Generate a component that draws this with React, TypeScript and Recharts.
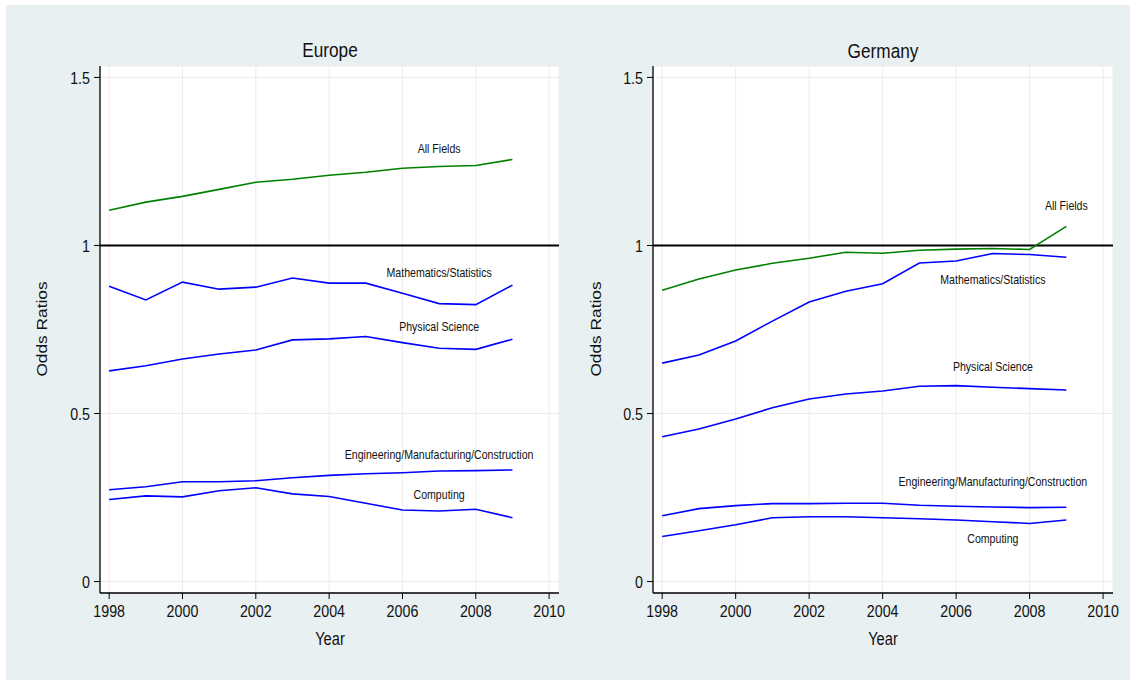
import React from "react";
import {
  LineChart,
  Line,
  XAxis,
  YAxis,
  CartesianGrid,
  ReferenceLine,
  ReferenceDot,
} from "recharts";

// ---------- data ----------
const years = [1998, 1999, 2000, 2001, 2002, 2003, 2004, 2005, 2006, 2007, 2008, 2009];
const xTicks = [1998, 2000, 2002, 2004, 2006, 2008, 2010];
const yTicks = [0, 0.5, 1, 1.5];

// Europe
const euAllFields = [1.105, 1.129, 1.146, 1.167, 1.188, 1.197, 1.209, 1.218, 1.23, 1.235, 1.238, 1.256];
const euMath = [0.879, 0.838, 0.891, 0.87, 0.876, 0.903, 0.888, 0.888, 0.858, 0.827, 0.824, 0.882];
const euPhys = [0.627, 0.642, 0.662, 0.677, 0.689, 0.719, 0.722, 0.729, 0.711, 0.694, 0.691, 0.721];
const euEng = [0.273, 0.282, 0.297, 0.297, 0.3, 0.309, 0.316, 0.321, 0.324, 0.329, 0.33, 0.332];
const euComp = [0.244, 0.255, 0.252, 0.27, 0.279, 0.261, 0.253, 0.233, 0.213, 0.21, 0.215, 0.19];

// Germany
const deAllFields = [0.867, 0.9, 0.927, 0.947, 0.962, 0.98, 0.977, 0.986, 0.989, 0.991, 0.988, 1.057];
const deMath = [0.65, 0.674, 0.716, 0.775, 0.832, 0.864, 0.886, 0.948, 0.954, 0.976, 0.973, 0.965];
const dePhys = [0.431, 0.454, 0.484, 0.517, 0.543, 0.558, 0.567, 0.581, 0.583, 0.578, 0.574, 0.57];
const deEng = [0.196, 0.217, 0.226, 0.232, 0.232, 0.233, 0.233, 0.227, 0.224, 0.222, 0.22, 0.221];
const deComp = [0.134, 0.151, 0.169, 0.19, 0.193, 0.193, 0.19, 0.187, 0.183, 0.178, 0.173, 0.183];

// Series labels (text, anchor year, anchor value)
const labelTexts = [
  "All Fields",
  "Mathematics/Statistics",
  "Physical Science",
  "Engineering/Manufacturing/Construction",
  "Computing",
];
const euLabelYears = [2007, 2007, 2007, 2007, 2007];
const euLabelValues = [1.289, 0.919, 0.758, 0.377, 0.258];
const deLabelYears = [2009, 2007, 2007, 2007, 2007];
const deLabelValues = [1.118, 0.899, 0.639, 0.298, 0.128];

const seriesKeys = ["all", "math", "phys", "eng", "comp"];
const seriesColors = ["#008000", "#0000ff", "#0000ff", "#0000ff", "#0000ff"];

const buildRows = (cols: number[][]) =>
  years.map((y, i) => {
    const row: any = { year: y };
    seriesKeys.forEach((k, j) => (row[k] = cols[j][i]));
    return row;
  });

const euRows = buildRows([euAllFields, euMath, euPhys, euEng, euComp]);
const deRows = buildRows([deAllFields, deMath, dePhys, deEng, deComp]);

// ---------- styling ----------
const FONT = "'Liberation Sans', Arial, Helvetica, sans-serif";
const SX = 0.84; // horizontal text compression seen in the reference

const XTick = (p: any) => (
  <text
    transform={`translate(${p.x},${p.y}) scale(${SX},1)`}
    textAnchor="middle"
    dy="0.71em"
    fontSize={17}
    fontFamily={FONT}
    fill="#111"
  >
    {p.payload.value}
  </text>
);

const YTick = (p: any) => (
  <text
    transform={`translate(${p.x},${p.y}) scale(${SX},1)`}
    textAnchor="end"
    dy="0.36em"
    fontSize={17}
    fontFamily={FONT}
    fill="#111"
  >
    {p.payload.value}
  </text>
);

const makeLabelShape = (txt: string) => (p: any) => (
  <text
    transform={`translate(${p.cx},${p.cy}) scale(${SX},1)`}
    textAnchor="middle"
    dy="0.36em"
    fontSize={12.6}
    fontFamily={FONT}
    fill="#111"
  >
    {txt}
  </text>
);

type PanelProps = {
  rows: any[];
  labelYears: number[];
  labelValues: number[];
  left: number;
  width: number;
  rightMargin: number;
};

const Panel = ({ rows, labelYears, labelValues, left, width, rightMargin }: PanelProps) => (
  <div style={{ position: "absolute", left, top: 0, width, height: 684 }}>
    <LineChart
      width={width}
      height={684}
      data={rows}
      margin={{ top: 66, right: rightMargin, bottom: 61, left: 0 }}
    >
      <CartesianGrid stroke="#ececec" strokeWidth={1} fill="#ffffff" fillOpacity={1} />
      <XAxis
        dataKey="year"
        type="number"
        domain={[1997.75, 2010.27]}
        ticks={xTicks}
        allowDataOverflow
        height={30}
        tickSize={6}
        tickMargin={6}
        axisLine={{ stroke: "#000", strokeWidth: 1.3 }}
        tickLine={{ stroke: "#000", strokeWidth: 1 }}
        tick={<XTick />}
        interval={0}
      />
      <YAxis
        type="number"
        domain={[-0.034, 1.534]}
        ticks={yTicks}
        allowDataOverflow
        width={100}
        tickSize={6}
        tickMargin={4}
        axisLine={{ stroke: "#000", strokeWidth: 1.3 }}
        tickLine={{ stroke: "#000", strokeWidth: 1 }}
        tick={<YTick />}
        interval={0}
      />
      <ReferenceLine y={1} stroke="#000" strokeWidth={1.8} />
      {seriesKeys.map((k, i) => (
        <Line
          key={k}
          dataKey={k}
          type="linear"
          stroke={seriesColors[i]}
          strokeWidth={1.6}
          dot={false}
          activeDot={false}
          isAnimationActive={false}
        />
      ))}
      {labelTexts.map((t, i) => (
        <ReferenceDot
          key={t}
          x={labelYears[i]}
          y={labelValues[i]}
          r={1}
          ifOverflow="visible"
          shape={makeLabelShape(t)}
        />
      ))}
    </LineChart>
  </div>
);

const OverlayText = ({ x, y, size, children, rotate }: any) => (
  <text
    transform={
      rotate
        ? `translate(${x},${y}) scale(${SX},1) rotate(-90)`
        : `translate(${x},${y}) scale(${SX},1)`
    }
    textAnchor="middle"
    dy="0.36em"
    fontSize={size}
    fontFamily={FONT}
    fill="#111"
  >
    {children}
  </text>
);

export default function App() {
  return (
    <div
      style={{
        position: "fixed",
        left: 0,
        top: 0,
        width: 1134,
        height: 684,
        background: "#ffffff",
        overflow: "hidden",
      }}
    >
      <div
        style={{
          position: "absolute",
          left: 6,
          top: 5,
          width: 1124,
          height: 675,
          background: "#e8f0f2",
        }}
      />
      <Panel rows={euRows} labelYears={euLabelYears} labelValues={euLabelValues} left={0} width={567} rightMargin={8} />
      <Panel rows={deRows} labelYears={deLabelYears} labelValues={deLabelValues} left={553} width={570} rightMargin={10} />
      <svg
        width={1134}
        height={684}
        style={{ position: "absolute", left: 0, top: 0, pointerEvents: "none" }}
      >
        <OverlayText x={330} y={50} size={20.5}>Europe</OverlayText>
        <OverlayText x={883} y={50.5} size={20.5}>Germany</OverlayText>
        <OverlayText x={330} y={639} size={17.5}>Year</OverlayText>
        <OverlayText x={883} y={639} size={17.5}>Year</OverlayText>
        <OverlayText x={42} y={329} size={17.3} rotate>Odds Ratios</OverlayText>
        <OverlayText x={596} y={329} size={17.3} rotate>Odds Ratios</OverlayText>
      </svg>
    </div>
  );
}
